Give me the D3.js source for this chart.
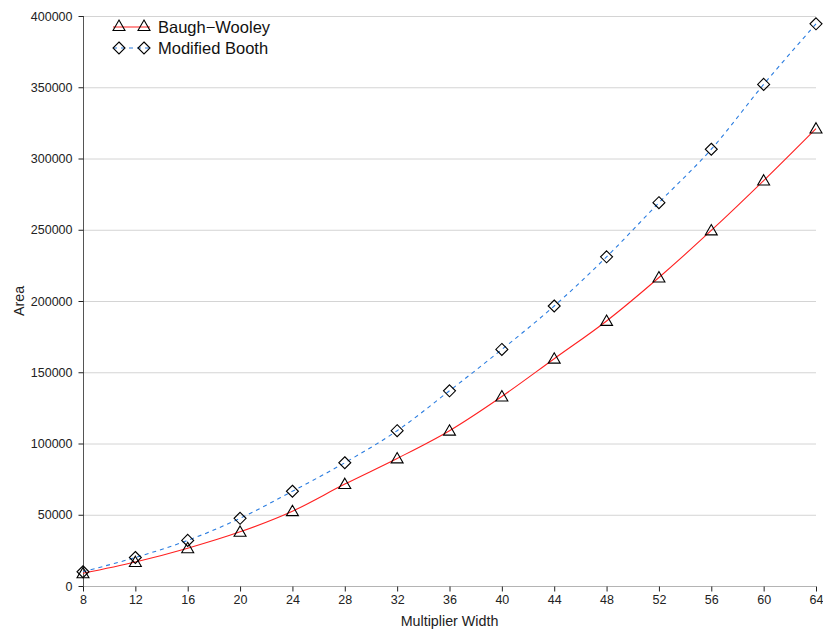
<!DOCTYPE html>
<html>
<head>
<meta charset="utf-8">
<script src="https://cdn.jsdelivr.net/npm/d3@7/dist/d3.min.js"></script>
<style>
  html, body { margin: 0; padding: 0; background: #fff; }
  svg { display: block; font-family: "Liberation Sans", Arial, sans-serif; }
</style>
</head>
<body>
<svg id="chart" width="823" height="632"></svg>
<script>
// Multiplier widths (x categories)
const widths = [8, 12, 16, 20, 24, 28, 32, 36, 40, 44, 48, 52, 56, 60, 64];
// Area for each multiplier architecture
const baughWooley = [8900, 16800, 26500, 38000, 52500, 71500, 89500, 109000, 133000, 159500, 186000, 216500, 249500, 284500, 321000];
const modifiedBooth = [10000, 20000, 32000, 47500, 66500, 86500, 109000, 137000, 166000, 196500, 231000, 269000, 306500, 352000, 394500];
// Axis ticks
const xTicks = widths;
const yTicks = [0, 50000, 100000, 150000, 200000, 250000, 300000, 350000, 400000];
const seriesNames = ["Baugh\u2212Wooley", "Modified Booth"];

const svg = d3.select("#chart");
const plotL = 83, plotR = 816, plotT = 16, plotB = 586;

const x = d3.scaleLinear().domain([8, 64]).range([plotL, plotR]);
const y = d3.scaleLinear().domain([0, 400000]).range([plotB, plotT]);

// Horizontal gridlines
svg.append("g")
  .selectAll("line")
  .data(yTicks.filter(d => d > 0))
  .join("line")
  .attr("x1", plotL).attr("x2", plotR)
  .attr("y1", d => y(d) + 0.5).attr("y2", d => y(d) + 0.5)
  .attr("stroke", "#d4d4d4").attr("stroke-width", 1);

// Bottom axis
const xAxis = svg.append("g")
  .attr("transform", `translate(0,${plotB + 0.5})`)
  .call(d3.axisBottom(x).tickValues(xTicks).tickSize(5).tickPadding(4).tickFormat(d3.format("d")));
xAxis.select(".domain").attr("stroke", "#b4b4b4").attr("d", `M${plotL},0H${plotR}`);
xAxis.selectAll(".tick line").attr("stroke", "#222");
xAxis.selectAll(".tick text").attr("font-size", 12.5).attr("fill", "#222");

// Left axis
const yAxis = svg.append("g")
  .attr("transform", `translate(${plotL + 0.5},0)`)
  .call(d3.axisLeft(y).tickValues(yTicks).tickSize(5).tickPadding(6).tickFormat(d3.format("d")));
yAxis.select(".domain").attr("stroke", "#555").attr("d", `M0,${plotT}V${plotB}`);
yAxis.selectAll(".tick line").attr("stroke", "#222");
yAxis.selectAll(".tick text").attr("font-size", 12.5).attr("fill", "#222");

// Axis titles
svg.append("text")
  .attr("x", (plotL + plotR) / 2).attr("y", 626)
  .attr("text-anchor", "middle").attr("font-size", 14.3).attr("fill", "#222")
  .text("Multiplier Width");
svg.append("text")
  .attr("transform", `translate(24,${(plotT + plotB) / 2}) rotate(-90)`)
  .attr("text-anchor", "middle").attr("font-size", 14.3).attr("fill", "#222")
  .text("Area");

const line = d3.line().x((d, i) => x(widths[i])).y(d => y(d)).curve(d3.curveCatmullRom.alpha(0.5));

const triangle = d3.symbol().type(d3.symbolTriangle).size(62);
const diamond = "M0,-6L6,0L0,6L-6,0Z";

// Modified Booth series (dashed blue, diamonds)
svg.append("path")
  .datum(modifiedBooth)
  .attr("d", line)
  .attr("fill", "none").attr("stroke", "#2b7de0").attr("stroke-width", 1.1)
  .attr("stroke-dasharray", "4,4");

// Baugh-Wooley series (solid red, triangles)
svg.append("path")
  .datum(baughWooley)
  .attr("d", line)
  .attr("fill", "none").attr("stroke", "#ff2020").attr("stroke-width", 1.1);

svg.append("g")
  .selectAll("path")
  .data(modifiedBooth)
  .join("path")
  .attr("transform", (d, i) => `translate(${x(widths[i])},${y(d)})`)
  .attr("d", diamond)
  .attr("fill", "none").attr("stroke", "#000").attr("stroke-width", 1.1);

svg.append("g")
  .selectAll("path")
  .data(baughWooley)
  .join("path")
  .attr("transform", (d, i) => `translate(${x(widths[i])},${y(d) + 1})`)
  .attr("d", triangle)
  .attr("fill", "none").attr("stroke", "#000").attr("stroke-width", 1.1);

// Legend
const legend = svg.append("g");
const rows = [
  { name: seriesNames[0], color: "#ff2020", dash: null, marker: "tri", yy: 27 },
  { name: seriesNames[1], color: "#2b7de0", dash: "4,4", marker: "dia", yy: 48 }
];
rows.forEach(r => {
  legend.append("line")
    .attr("x1", 113).attr("x2", 150).attr("y1", r.yy).attr("y2", r.yy)
    .attr("stroke", r.color).attr("stroke-width", 1.1)
    .attr("stroke-dasharray", r.dash);
  [119, 144].forEach(mx => {
    legend.append("path")
      .attr("transform", `translate(${mx},${r.yy})`)
      .attr("d", r.marker === "tri" ? triangle() : diamond)
      .attr("fill", "none").attr("stroke", "#000").attr("stroke-width", 1.1);
  });
  legend.append("text")
    .attr("x", 158).attr("y", r.yy + 6)
    .attr("font-size", 16.5).attr("fill", "#111")
    .text(r.name);
});
</script>
</body>
</html>
